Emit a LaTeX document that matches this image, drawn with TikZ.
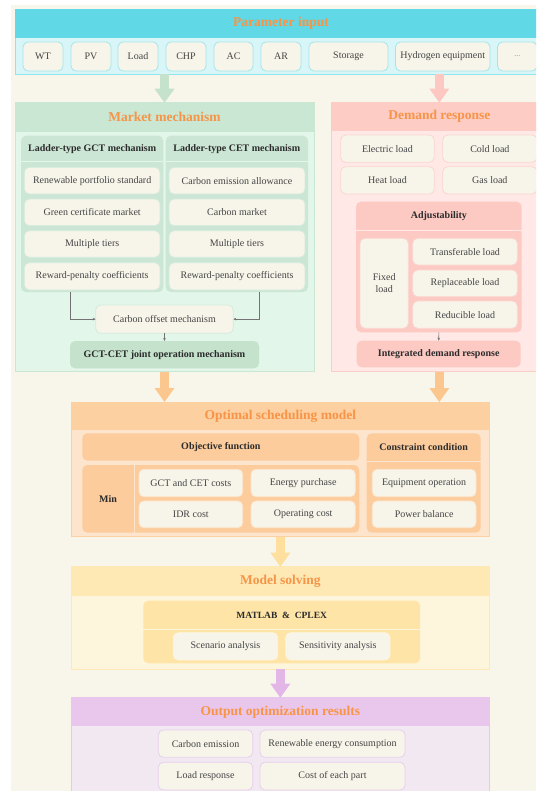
\documentclass[tikz,border=0pt]{standalone}
\usepackage{fontspec}
\setmainfont{Liberation Serif}
\usetikzlibrary{arrows.meta}
\definecolor{bgc}{HTML}{F8F6EB}
\definecolor{cream}{HTML}{F7F5EA}
\definecolor{ttl}{HTML}{F79447}
\definecolor{txt}{HTML}{444444}
\definecolor{btxt}{HTML}{2B2B2B}
\definecolor{cyH}{HTML}{60D8E5}
\definecolor{cyB}{HTML}{D8F5F8}
\definecolor{cyL}{HTML}{A3E5EC}
\definecolor{gnH}{HTML}{C9E7D3}
\definecolor{gnB}{HTML}{E2F6E9}
\definecolor{gnP}{HTML}{CCE6D5}
\definecolor{gnL}{HTML}{D3EBDB}
\definecolor{gnA}{HTML}{C4E2CC}
\definecolor{pkH}{HTML}{FDCCC5}
\definecolor{pkB}{HTML}{FFE8E5}
\definecolor{pkP}{HTML}{FDCAC3}
\definecolor{pkL}{HTML}{FAD6D0}
\definecolor{pkA}{HTML}{FDC8C1}
\definecolor{orH}{HTML}{FDD0A2}
\definecolor{orB}{HTML}{FDE5CD}
\definecolor{orP}{HTML}{FCCC9C}
\definecolor{orA}{HTML}{FBC78F}
\definecolor{ylH}{HTML}{FEE9B5}
\definecolor{ylB}{HTML}{FEF5DD}
\definecolor{ylP}{HTML}{FEE4A7}
\definecolor{ylA}{HTML}{FEDF9E}
\definecolor{puH}{HTML}{E9C7ED}
\definecolor{puB}{HTML}{F1E8F2}
\definecolor{puL}{HTML}{E8CFEC}
\definecolor{puA}{HTML}{E3B6E8}
\newcommand\bx[6]{\node[#6, minimum width={#4-#2}, minimum height={#5-#3}] (#1) at ({(#2+#4)/2},{(#3+#5)/2})}
\tikzset{
 base/.style={rectangle, inner sep=0pt, outer sep=0pt},
 fn/.style={font=\fontsize{10}{11.5}\selectfont, text=txt},
 fb/.style={font=\fontsize{10}{12}\selectfont\bfseries, text=btxt},
 titl/.style={font=\fontsize{13.5}{16}\selectfont\bfseries, text=ttl},
 outerbox/.style={base, fill=#1},
 item/.style={base, rounded corners=5pt, fill=cream, draw=#1, line width=0.8pt, fn},
 panel/.style={base, rounded corners=5pt, fill=#1},
 barrow/.style={draw=#1, line width=9.5pt, -{Triangle[length=14pt,width=20pt,line width=0pt]}},
 thinarr/.style={draw=black!55, line width=0.6pt, -{Stealth[length=3pt,width=2.6pt]}},
 sepline/.style={draw=#1, line width=0.8pt}
}
\begin{document}
\begin{tikzpicture}[x=1pt,y=-1pt]
\useasboundingbox (0,0) rectangle (536,791);
\clip (0,0) rectangle (536,791);
\fill[bgc] (11,5) rectangle (536,791);

% ---------- Parameter input
\bx{par}{15}{9.5}{547}{74.5}{outerbox=cyB, draw=cyH!70, line width=0.8pt} {};
\bx{parh}{15}{9.5}{547}{38}{outerbox=cyH, titl} {Parameter input};
\bx{wt}{23}{42}{63}{71}{item=cyL} {WT};
\bx{pv}{71}{42}{111}{71}{item=cyL} {PV};
\bx{ld}{118}{42}{158}{71}{item=cyL} {Load};
\bx{chp}{166}{42}{206}{71}{item=cyL} {CHP};
\bx{ac}{214}{42}{253}{71}{item=cyL} {AC};
\bx{ar}{261}{42}{301}{71}{item=cyL} {AR};
\bx{sto}{309}{42}{388}{71}{item=cyL} {Storage};
\bx{hyd}{395.5}{42}{490}{71}{item=cyL} {Hydrogen equipment};
\bx{dots}{497.5}{42}{537}{71}{item=cyL, font=\fontsize{8}{10}\selectfont, text=black!45} {...};

% ---------- Market mechanism
\bx{mkt}{15}{102.7}{314}{371.7}{outerbox=gnB, draw=gnH, line width=0.8pt} {};
\bx{mkth}{15}{102.7}{314}{131.7}{outerbox=gnH, titl} {Market mechanism};
\bx{gct}{21}{135.7}{163.3}{292}{panel=gnP} {};
\bx{cet}{165.7}{135.7}{308}{292}{panel=gnP} {};
\draw[sepline=gnB] (21,161.7) -- (163.3,161.7);
\draw[sepline=gnB] (165.7,161.7) -- (308,161.7);
\node[fb] (gctl) at (92.2,148.7) {Ladder-type GCT mechanism};
\node[fb] (cetl) at (236.8,148.7) {Ladder-type CET mechanism};
\bx{g1}{24.3}{167.3}{160}{194}{item=gnL} {Renewable portfolio standard};
\bx{g2}{24.3}{199}{160}{225.7}{item=gnL} {Green certificate market};
\bx{g3}{24.3}{230.7}{160}{257.3}{item=gnL} {Multiple tiers};
\bx{g4}{24.3}{262.7}{160}{290}{item=gnL} {Reward-penalty coefficients};
\bx{c1}{169}{167.3}{305}{194}{item=gnL} {Carbon emission allowance};
\bx{c2}{169}{199}{305}{225.7}{item=gnL} {Carbon market};
\bx{c3}{169}{230.7}{305}{257.3}{item=gnL} {Multiple tiers};
\bx{c4}{169}{262.7}{305}{290}{item=gnL} {Reward-penalty coefficients};
\bx{off}{95.7}{305}{233.3}{333.3}{item=gnL} {Carbon offset mechanism};
\bx{jnt}{70}{341}{259}{368.3}{panel=gnA, fb} {GCT-CET joint operation mechanism};
\draw[thinarr] (gct.south -| jnt.west) |- (off.west);
\draw[thinarr] (cet.south -| jnt.east) |- (off.east);
\draw[thinarr] (off.south) -- (jnt.north);

% ---------- Demand response
\bx{dr}{331.7}{102.7}{547}{371.7}{outerbox=pkB, draw=pkH, line width=0.8pt} {};
\bx{drh}{331.7}{102.7}{547}{130.7}{outerbox=pkH, titl} {Demand response};
\bx{el}{340.7}{135}{434.3}{162.3}{item=pkL} {Electric load};
\bx{cl}{442.7}{135}{537}{162.3}{item=pkL} {Cold load};
\bx{hl}{340.7}{166.7}{434.3}{194}{item=pkL} {Heat load};
\bx{gl}{442.7}{166.7}{537}{194}{item=pkL} {Gas load};
\bx{adj}{356}{201.7}{521.7}{332.3}{panel=pkP} {};
\draw[sepline=pkB] (356,230) -- (521.7,230);
\node[fb] (adjl) at (438.9,216) {Adjustability};
\bx{fix}{360}{238.3}{408.3}{328.3}{item=pkL, align=center} {Fixed\\load};
\bx{tl}{412.7}{238.3}{517.3}{265}{item=pkL} {Transferable load};
\bx{rl}{412.7}{270}{517.3}{296.7}{item=pkL} {Replaceable load};
\bx{dl}{412.7}{301}{517.3}{328.3}{item=pkL} {Reducible load};
\bx{idr}{356.7}{340.7}{520.7}{367.3}{panel=pkP, fb} {Integrated demand response};
\draw[thinarr] (adj.south) -- (idr.north);

% ---------- Optimal scheduling model
\bx{opt}{71.7}{402}{489}{536.7}{outerbox=orB, draw=orH, line width=0.8pt} {};
\bx{opth}{71.7}{402}{489}{430}{outerbox=orH, titl} {Optimal scheduling model};
\bx{obj}{82.3}{433.3}{359.3}{460.7}{panel=orP, fb} {Objective function};
\bx{minb}{82.3}{465}{359.3}{532.7}{panel=orP} {};
\draw[sepline=orB] (134,465) -- (134,532.7);
\node[fb] (minl) at (108,499) {Min};
\bx{o1}{139}{469.3}{242.7}{496.7}{item=orB} {GCT and CET costs};
\bx{o2}{251}{469.3}{355.3}{496.7}{item=orB} {Energy purchase};
\bx{o3}{139}{501}{242.7}{527.7}{item=orB} {IDR cost};
\bx{o4}{251}{501}{355.3}{527.7}{item=orB} {Operating cost};
\bx{con}{366.7}{433.3}{480.7}{532.7}{panel=orP} {};
\draw[sepline=orB] (366.7,461.7) -- (480.7,461.7);
\node[fb] (conl) at (423.7,447.5) {Constraint condition};
\bx{k1}{372.3}{469.3}{476}{496.7}{item=orB} {Equipment operation};
\bx{k2}{372.3}{501}{476}{527.7}{item=orB} {Power balance};

% ---------- Model solving
\bx{sol}{71.7}{566.7}{489}{669}{outerbox=ylB, draw=ylH, line width=0.8pt} {};
\bx{solh}{71.7}{566.7}{489}{595.7}{outerbox=ylH, titl} {Model solving};
\bx{mat}{143.3}{600.7}{420}{663.3}{panel=ylP} {};
\draw[sepline=ylB] (143.3,629) -- (420,629);
\node[fb, font=\fontsize{9.5}{12}\selectfont\bfseries] (matl) at (281.7,615) {MATLAB~~\&~~CPLEX};
\bx{sa}{173.3}{632.7}{277.7}{660}{item=ylB} {Scenario analysis};
\bx{se}{285.7}{632.7}{390}{660}{item=ylB} {Sensitivity analysis};

% ---------- Output optimization results
\bx{out}{71.7}{697.7}{489}{800}{outerbox=puB, draw=puH, line width=0.8pt} {};
\bx{outh}{71.7}{697.7}{489}{726}{outerbox=puH, titl} {Output optimization results};
\bx{r1}{158.3}{730}{252.7}{757.3}{item=puL} {Carbon emission};
\bx{r2}{260}{730}{405}{757.3}{item=puL} {Renewable energy consumption};
\bx{r3}{158.3}{762.3}{252.7}{790}{item=puL} {Load response};
\bx{r4}{260}{762.3}{405}{790}{item=puL} {Cost of each part};

% ---------- block arrows
\draw[barrow=gnA] (mkt.north |- par.south) -- (mkt.north);
\draw[barrow=pkA] (dr.north |- par.south) -- (dr.north);
\draw[barrow=orA] (mkt.south) -- (mkt.south |- opt.north);
\draw[barrow=orA] (dr.south) -- (dr.south |- opt.north);
\draw[barrow=ylA] (opt.south) -- (sol.north);
\draw[barrow=puA] (sol.south) -- (out.north);
\end{tikzpicture}
\end{document}
